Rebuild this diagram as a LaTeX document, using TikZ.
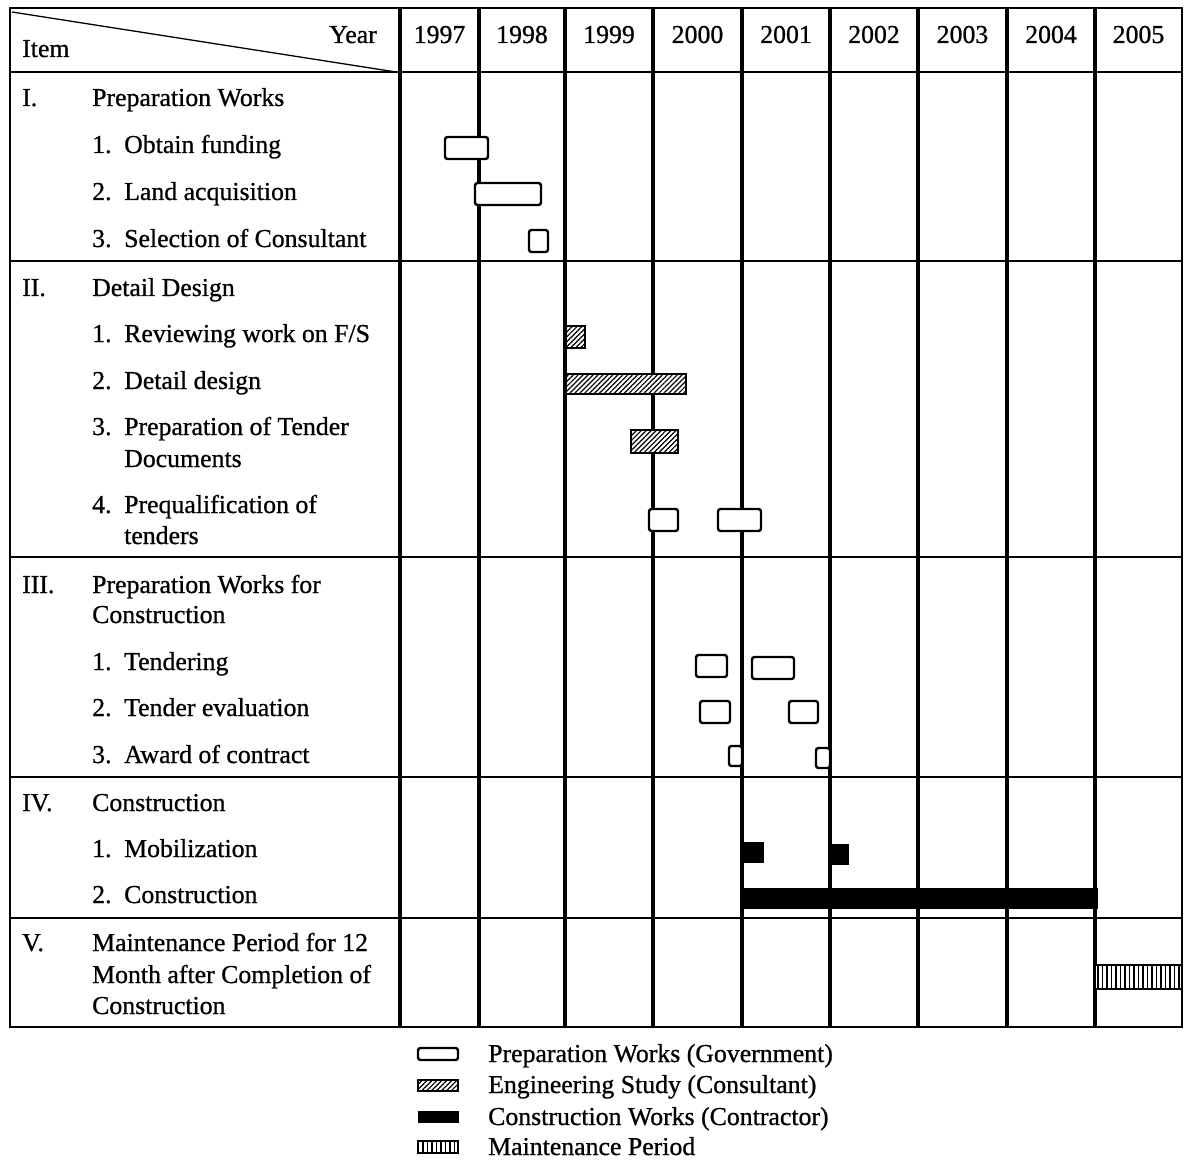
\documentclass[tikz,border=0pt]{standalone}
\usepackage{fontspec}
\setmainfont{Liberation Serif}[FakeBold=0.8]
\usetikzlibrary{patterns.meta}
\begin{document}
\begin{tikzpicture}[x=1pt,y=-1pt,
  txt/.style={anchor=base west, inner sep=0pt, font=\fontsize{25.8}{30}\selectfont},
  yr/.style={anchor=base, inner sep=0pt, font=\fontsize{25.8}{30}\selectfont},
  thinrule/.style={line width=1.5pt},
  thickrule/.style={line width=3.2pt},
  prepbar/.style={draw, fill=white, line width=2.4pt, rounded corners=2.5pt},
  engbar/.style={draw, line width=2pt, preaction={fill=white}, pattern={Lines[angle=45,distance=3.5pt,line width=1.2pt]}},
  conbar/.style={draw, fill=black, line width=1pt},
  mntbar/.style={draw, line width=2pt, preaction={fill=white}, pattern={Lines[angle=90,distance=4.5pt,line width=1.6pt]}}
]
\useasboundingbox (0,0) rectangle (1184,1161);
% table rules
\foreach \yy in {72,261,557,777,918} \draw[thinrule] (10,\yy) -- (1182,\yy);
\draw[thinrule] (10,8) rectangle (1182,1027);
\draw[line width=2.4pt] (1182,8) -- (1182,1027);
\foreach \xx in {400,479,565,653,742,830,918,1007,1095} \draw[thickrule] (\xx,8) -- (\xx,1027);
\draw[line width=1.3pt] (12,12) -- (396,72);
% header
\node[txt,anchor=base east] (year) at (377,43) {Year};
\node[txt] (item) at (22,57) {Item};
\foreach \yname/\xc in {1997/439.5,1998/522,1999/609,2000/697.5,2001/786,2002/874,2003/962.5,2004/1051,2005/1138.5}
  \node[yr] (y\yname) at (\xc,43) {\yname};
% item column
\node[txt] (s1) at (22,106) {\makebox[70pt][l]{I.}Preparation Works};
\node[txt] (s1a) at (92,153) {\makebox[32pt][l]{1.}Obtain funding};
\node[txt] (s1b) at (92,200) {\makebox[32pt][l]{2.}Land acquisition};
\node[txt] (s1c) at (92,247) {\makebox[32pt][l]{3.}Selection of Consultant};
\node[txt] (s2) at (22,296) {\makebox[70pt][l]{II.}Detail Design};
\node[txt] (s2a) at (92,342) {\makebox[32pt][l]{1.}Reviewing work on F/S};
\node[txt] (s2b) at (92,389) {\makebox[32pt][l]{2.}Detail design};
\node[txt] (s2c) at (92,435) {\makebox[32pt][l]{3.}Preparation of Tender};
\node[txt] (s2c2) at (124,467) {Documents};
\node[txt] (s2d) at (92,513) {\makebox[32pt][l]{4.}Prequalification of};
\node[txt] (s2d2) at (124,544) {tenders};
\node[txt] (s3) at (22,593) {\makebox[70pt][l]{III.}Preparation Works for};
\node[txt] (s3x) at (92,623) {Construction};
\node[txt] (s3a) at (92,670) {\makebox[32pt][l]{1.}Tendering};
\node[txt] (s3b) at (92,716) {\makebox[32pt][l]{2.}Tender evaluation};
\node[txt] (s3c) at (92,763) {\makebox[32pt][l]{3.}Award of contract};
\node[txt] (s4) at (22,811) {\makebox[70pt][l]{IV.}Construction};
\node[txt] (s4a) at (92,857) {\makebox[32pt][l]{1.}Mobilization};
\node[txt] (s4b) at (92,903) {\makebox[32pt][l]{2.}Construction};
\node[txt] (s5) at (22,951) {\makebox[70pt][l]{V.}Maintenance Period for 12};
\node[txt] (s5x) at (92,983) {Month after Completion of};
\node[txt] (s5y) at (92,1014) {Construction};
% bars: preparation works
\draw[prepbar] (445,137) rectangle (488,159);
\draw[prepbar] (475,183) rectangle (541,205);
\draw[prepbar] (529,230) rectangle (548,252);
% detail design
\draw[engbar] (566,326) rectangle (585,348);
\draw[engbar] (566,374) rectangle (686,394);
\draw[engbar] (631,430) rectangle (678,453);
\draw[prepbar] (649,509) rectangle (678,531);
\draw[prepbar] (718,509) rectangle (761,531);
% preparation for construction
\draw[prepbar] (696,655) rectangle (727,677);
\draw[prepbar] (752,657) rectangle (794,679);
\draw[prepbar] (700,701) rectangle (730,723);
\draw[prepbar] (789,701) rectangle (818,723);
\draw[prepbar] (729,746) rectangle (742,766);
\draw[prepbar] (816,748) rectangle (830,768);
% construction
\draw[conbar] (742,842) rectangle (763,862);
\draw[conbar] (829,844) rectangle (848,864);
\draw[conbar] (743,888) rectangle (1097,908);
% maintenance
\draw[mntbar] (1095,965) rectangle (1182,989);
% legend
\draw[prepbar] (418,1048) rectangle (458,1060);
\draw[engbar] (418,1080) rectangle (458,1091);
\draw[conbar] (418,1111) rectangle (458,1122);
\draw[mntbar] (418,1141) rectangle (458,1153);
\node[txt] (l1) at (488,1062) {Preparation Works (Government)};
\node[txt] (l2) at (488,1093) {Engineering Study (Consultant)};
\node[txt] (l3) at (488,1125) {Construction Works (Contractor)};
\node[txt] (l4) at (488,1155) {Maintenance Period};
\end{tikzpicture}
\end{document}
